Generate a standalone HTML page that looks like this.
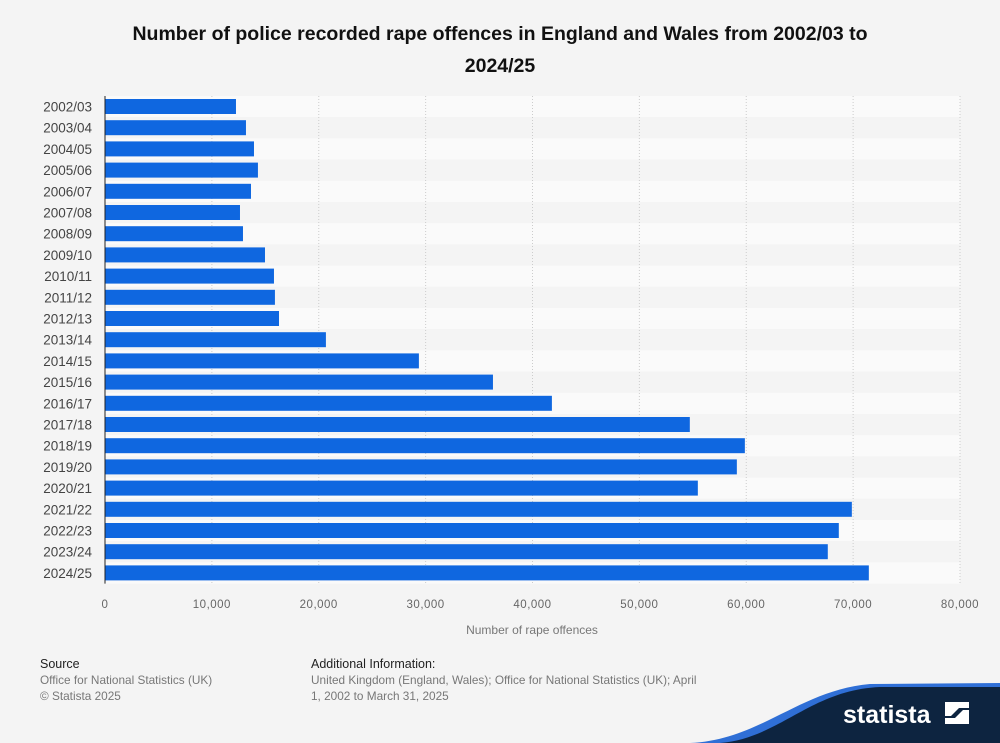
<!DOCTYPE html>
<html><head><meta charset="utf-8"><style>
body{margin:0;width:1000px;height:743px;background:#f4f4f4;font-family:"Liberation Sans",sans-serif;overflow:hidden;position:relative}
.t{position:absolute;left:0;width:1000px;text-align:center;top:18px;font-size:19.5px;font-weight:bold;line-height:32px;color:#111}
.f{position:absolute;font-size:11.8px;color:#777;line-height:16px}
.f b{color:#222;font-weight:normal;font-size:12.5px}
</style></head><body>
<div class="t">Number of police recorded rape offences in England and Wales from 2002/03 to<br>2024/25</div>
<svg id="c" width="1000" height="743" style="position:absolute;left:0;top:0"></svg>
<div class="f" style="left:40px;top:656px"><b>Source</b><br>Office for National Statistics (UK)<br>© Statista 2025</div>
<div class="f" style="left:311px;top:656px;width:420px"><b>Additional Information:</b><br>United Kingdom (England, Wales); Office for National Statistics (UK); April<br>1, 2002 to March 31, 2025</div>
<script>
const categories=["2002/03","2003/04","2004/05","2005/06","2006/07","2007/08","2008/09","2009/10","2010/11","2011/12","2012/13","2013/14","2014/15","2015/16","2016/17","2017/18","2018/19","2019/20","2020/21","2021/22","2022/23","2023/24","2024/25"];
const values=[12255,13190,13940,14310,13660,12630,12910,14970,15810,15900,16280,20670,29370,36300,41815,54720,59870,59120,55470,69880,68660,67630,71470];
const ticks=[0,10000,20000,30000,40000,50000,60000,70000,80000];
const ns="http://www.w3.org/2000/svg",s=document.getElementById('c');
const x0=105,x1=960,xmax=80000,top0=96,pitch=21.2;
const X=v=>x0+v/xmax*(x1-x0);
function mk(t,a){const e=document.createElementNS(ns,t);for(const k in a)e.setAttribute(k,a[k]);s.appendChild(e);return e;}
categories.forEach((c,i)=>{
 const r=mk('rect',{x:x0,y:top0+i*pitch,width:x1-x0,height:pitch,fill:i%2?'#f4f4f4':'#fafafa'});
 
 
});
ticks.forEach(t=>{
 const l=mk('line',{x1:X(t),x2:X(t),y1:top0,y2:top0+pitch*23,stroke:'#ccc','stroke-dasharray':'1,2'});
 
 
 const tx=mk('text',{x:X(t),y:608,'text-anchor':'middle','font-size':'11.5',fill:'#666','letter-spacing':'0.5'});
 tx.textContent=t.toLocaleString('en-US');
 
 
});
categories.forEach((c,i)=>{
 const y=top0+i*pitch;
 const b=mk('rect',{x:x0,y:y+3,width:X(values[i])-x0,height:15,fill:'#0f67e0'});
 
 
 const t=mk('text',{x:92,y:y+15.5,'text-anchor':'end','font-size':'13.5',fill:'#444'});
 t.textContent=c;
 
 
});
const ax=mk('line',{x1:x0,x2:x0,y1:top0,y2:top0+pitch*23,stroke:'#222','stroke-width':1});


const at=mk('text',{x:532,y:634,'text-anchor':'middle','font-size':'12',fill:'#777'});
at.textContent='Number of rape offences';


const w1=mk('path',{d:'M690 743 C760 740 800 690 870 684 L1000 683 L1000 743 Z',fill:'#2f6fd6'});


const w2=mk('path',{d:'M720 743 C780 738 810 690 880 687 L1000 687 L1000 743 Z',fill:'#0d2440'});


const lg=mk('text',{x:843,y:723,'font-size':'25','font-weight':'bold',fill:'#fff'});
lg.textContent='statista';


const li=mk('path',{d:'M945 702 h24 v6 h-10 l-8 8 h-6 Z M969 724 h-24 v-6 h10 l8 -8 h6 Z',fill:'#fff'});


</script>
</body></html>
